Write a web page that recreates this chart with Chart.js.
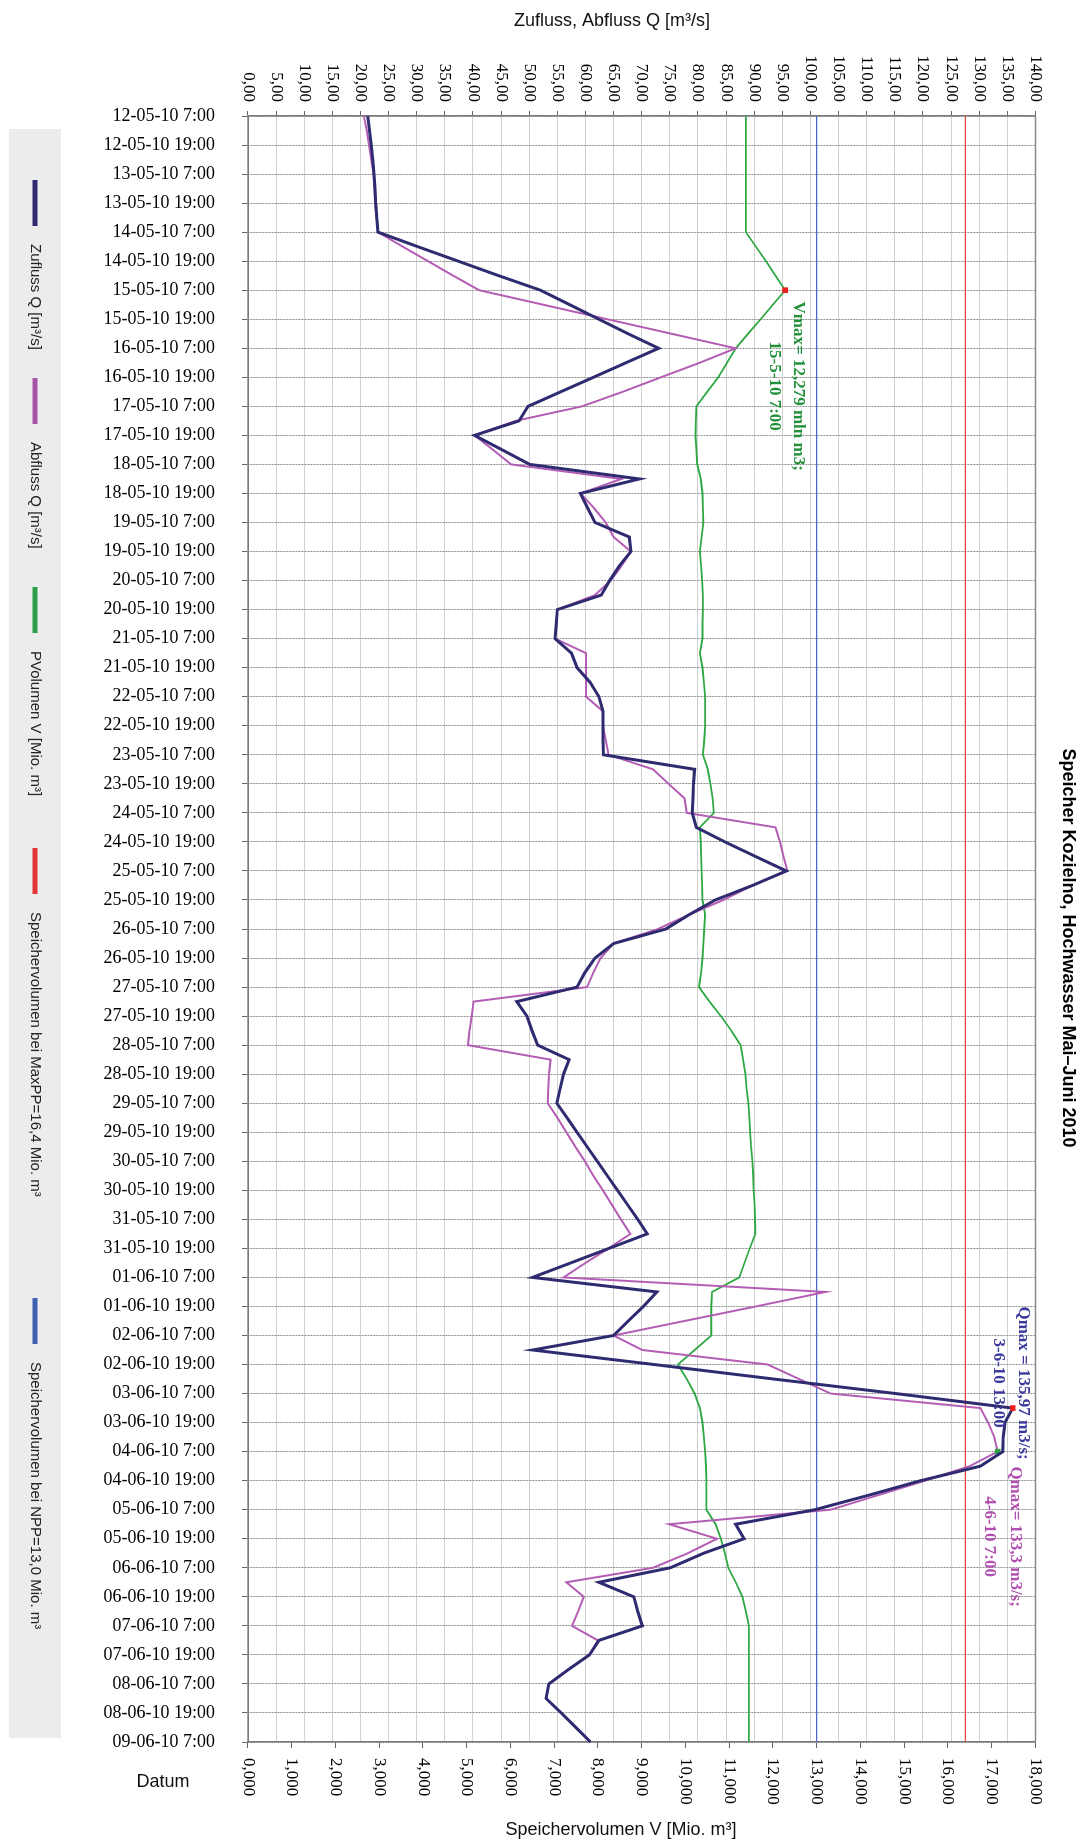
<!DOCTYPE html>
<html>
<head>
<meta charset="utf-8">
<title>Speicher Kozielno, Hochwasser Mai–Juni 2010</title>
<script src="https://cdn.jsdelivr.net/npm/chart.js@4.4.0/dist/chart.umd.min.js"></script>
<style>
  html, body { margin: 0; padding: 0; background: #fff; overflow: hidden; }
  /* the chart is drawn landscape and turned a quarter clockwise, like the original sheet */
  #wrap { position: absolute; left: 0; top: 0; width: 1842px; height: 1090px;
          transform-origin: 0 0; transform: translateX(1090px) rotate(90deg); }
</style>
</head>
<body>
<div id="wrap"><canvas id="chart" width="1842" height="1090"></canvas></div>
<script>
// 6-hour steps, 12-05-10 7:00 ... 09-06-10 7:00
const startTime = Date.UTC(2010, 4, 12, 7);
const stepCount = 113;
const timeLabels = [];
for (let i = 0; i < stepCount; i++) {
    const d = new Date(startTime + i * 6 * 3600 * 1000);
    const dd = String(d.getUTCDate()).padStart(2, '0');
    const mm = String(d.getUTCMonth() + 1).padStart(2, '0');
    const yy = String(d.getUTCFullYear()).slice(2);
    timeLabels.push(`${dd}-${mm}-${yy} ${d.getUTCHours()}:00`);
}

// Zufluss Q [m3/s]
const zufluss = [
    21.3, 21.6, 21.9, 22.2, 22.4, 22.6, 22.7, 22.9, 23.1, 30.2,
    37.4, 44.6, 52.0, 57.2, 62.4, 67.6, 73.0, 67.2, 61.4, 55.6,
    49.8, 48.2, 40.3, 45.2, 50.1, 69.6, 59.1, 60.4, 61.7, 67.8,
    68.1, 66.0, 64.3, 62.8, 55.0, 54.8, 54.6, 57.5, 58.5, 60.8,
    62.4, 63.1, 63.1, 63.1, 63.2, 79.4, 79.2, 79.1, 79.0, 79.7,
    84.8, 90.2, 95.7, 89.7, 83.1, 78.5, 74.3, 65.0, 61.7, 59.9,
    58.5, 47.8, 49.6, 50.5, 51.5, 57.1, 56.1, 55.5, 54.9, 56.7,
    58.5, 60.3, 62.1, 63.9, 65.7, 67.5, 69.3, 71.0, 64.2, 57.4,
    50.6, 72.7, 70.3, 67.6, 65.0, 50.6, 72.2, 93.5, 115.2, 135.97,
    134.6, 134.3, 134.2, 130.2, 119.6, 110.4, 100.8, 86.7, 88.2, 81.0,
    75.1, 62.4, 68.6, 69.3, 70.1, 62.4, 60.7, 57.0, 53.5, 53.0,
    55.7, 58.3, 60.9
];

// Abfluss Q [m3/s]
const abfluss = [
    20.6, 21.1, 21.5, 21.9, 22.3, 22.5, 22.6, 22.9, 23.1, 27.5,
    32.0, 36.5, 41.1, 52.5, 63.9, 75.3, 86.7, 80.3, 73.4, 66.6,
    59.4, 47.6, 40.3, 43.6, 46.8, 66.4, 59.1, 61.5, 63.6, 65.0,
    68.1, 66.4, 64.5, 61.7, 55.0, 54.8, 54.6, 60.1, 60.1, 60.1,
    60.1, 63.1, 63.1, 63.6, 64.1, 72.0, 74.8, 77.6, 78.0, 93.8,
    94.6, 95.2, 95.9, 89.7, 84.5, 78.5, 72.9, 65.0, 62.7, 61.4,
    60.3, 40.1, 39.8, 39.4, 39.1, 53.8, 53.5, 53.4, 53.3, 55.0,
    56.6, 58.2, 59.9, 61.4, 63.1, 64.7, 66.3, 68.0, 64.1, 60.0,
    56.1, 102.7, 90.3, 77.6, 65.0, 70.1, 92.4, 98.0, 103.6, 130.2,
    131.6, 132.7, 133.3, 128.3, 120.4, 112.0, 103.6, 74.9, 83.4, 78.2,
    72.0, 56.6, 59.7, 58.7, 57.6, 62.2, 60.7, 57.0, 53.5, 53.0,
    55.7, 58.3, 60.9
];

// PVolumen V [Mio. m3]
const volumen = [
    11.38, 11.38, 11.38, 11.38, 11.38, 11.38, 11.38, 11.38, 11.38, 11.61,
    11.84, 12.06, 12.279, 12.00, 11.72, 11.43, 11.15, 10.95, 10.75, 10.50,
    10.25, 10.24, 10.23, 10.25, 10.27, 10.35, 10.39, 10.40, 10.41, 10.37,
    10.33, 10.36, 10.38, 10.40, 10.40, 10.39, 10.39, 10.33, 10.39, 10.42,
    10.45, 10.45, 10.45, 10.43, 10.40, 10.51, 10.57, 10.62, 10.65, 10.33,
    10.35, 10.36, 10.37, 10.38, 10.39, 10.45, 10.43, 10.41, 10.39, 10.36,
    10.31, 10.55, 10.81, 11.05, 11.26, 11.32, 11.37, 11.40, 11.44, 11.46,
    11.48, 11.50, 11.53, 11.55, 11.56, 11.58, 11.59, 11.60, 11.47, 11.35,
    11.23, 10.61, 10.59, 10.59, 10.59, 10.21, 9.83, 10.03, 10.21, 10.33,
    10.39, 10.42, 10.45, 10.47, 10.48, 10.48, 10.48, 10.69, 10.81, 10.90,
    10.98, 11.15, 11.30, 11.38, 11.45, 11.45, 11.45, 11.45, 11.45, 11.45,
    11.45, 11.45, 11.45
];

const maxPPLevel = 16.4;
const nppLevel = 13.0;

const serif = "'Liberation Serif', 'Times New Roman', serif";
const sans = "'Liberation Sans', Arial, sans-serif";

const last = timeLabels.length - 1;
const zuMax = zufluss.indexOf(Math.max(...zufluss));
const abMax = abfluss.indexOf(Math.max(...abfluss));
const vMax = volumen.indexOf(Math.max(...volumen));

function markAt(idx, size) {
    return ctx => ctx.dataIndex === idx ? size : 0;
}

// annotations near the maxima: dataset, point, text lines, colour, offsets
const notes = [
    { ds: 2, idx: vMax, lines: ['Vmax= 12,279 mln m3;', '15-5-10 7:00'], color: '#23913a', dx: 96, dy: [-13, 11] },
    { ds: 0, idx: zuMax, lines: ['Qmax = 135,97 m3/s;', '3-6-10 13:00'], color: '#3a3a9c', dx: -25, dy: [-11, 14] },
    { ds: 1, idx: abMax, lines: ['Qmax= 133,3 m3/s;', '4-6-10 7:00'], color: '#b04fb0', dx: 85, dy: [-18, 8] }
];

// start of each legend item inside the grey legend strip
const legendSlots = [51, 249, 458, 719, 1169];

function drawTurned(ctx, text, x, y, font) {
    ctx.save();
    ctx.translate(x, y);
    ctx.rotate(-Math.PI / 2);
    ctx.font = font;
    ctx.fillStyle = '#111';
    ctx.textAlign = 'center';
    ctx.textBaseline = 'middle';
    ctx.fillText(text, 0, 0);
    ctx.restore();
}

const decorPlugin = {
    id: 'decor',
    afterDraw(chart) {
        const { ctx, chartArea } = chart;

        // solid frame along the Q = 140 edge
        ctx.save();
        ctx.strokeStyle = '#8a8a8a';
        ctx.lineWidth = 1.5;
        ctx.beginPath();
        ctx.moveTo(chartArea.left, chartArea.top);
        ctx.lineTo(chartArea.right, chartArea.top);
        ctx.stroke();
        ctx.restore();

        // axis titles, turned so they read level on the rotated page
        drawTurned(ctx, 'Zufluss, Abfluss Q [m³/s]', 21, 478, `18px ${sans}`);
        drawTurned(ctx, 'Speichervolumen V [Mio. m³]', 1830, 469, `18px ${sans}`);
        drawTurned(ctx, 'Datum', 1782, 927, `18px ${sans}`);

        // annotations
        ctx.save();
        ctx.font = `bold 17px ${serif}`;
        ctx.textAlign = 'center';
        ctx.textBaseline = 'middle';
        notes.forEach(n => {
            const pt = chart.getDatasetMeta(n.ds).data[n.idx];
            ctx.fillStyle = n.color;
            n.lines.forEach((line, i) => ctx.fillText(line, pt.x + n.dx, pt.y + n.dy[i]));
        });
        ctx.restore();

        // legend strip
        const bx = chartArea.left + 13;
        const bw = chartArea.right - 4 - bx;
        const by = chart.height - 61;
        ctx.save();
        ctx.fillStyle = '#ececec';
        ctx.fillRect(bx, by, bw, 52);
        ctx.font = `15px ${sans}`;
        ctx.textBaseline = 'middle';
        ctx.textAlign = 'left';
        chart.data.datasets.forEach((ds, i) => {
            const x = bx + legendSlots[i];
            const y = by + 26;
            ctx.strokeStyle = ds.legendColor || ds.borderColor;
            ctx.lineWidth = 5;
            ctx.beginPath();
            ctx.moveTo(x, y);
            ctx.lineTo(x + 46, y);
            ctx.stroke();
            ctx.fillStyle = '#222';
            ctx.fillText(ds.label, x + 64, y);
        });
        ctx.restore();
    }
};

new Chart(document.getElementById('chart'), {
    type: 'line',
    data: {
        labels: timeLabels,
        datasets: [
            {
                label: 'Zufluss Q [m³/s]',
                data: zufluss,
                yAxisID: 'q',
                borderColor: '#2e2b70',
                borderWidth: 3,
                pointStyle: 'rect',
                pointRadius: markAt(zuMax, 4),
                pointBackgroundColor: '#ee2020',
                pointBorderWidth: 0
            },
            {
                label: 'Abfluss Q [m³/s]',
                data: abfluss,
                yAxisID: 'q',
                borderColor: '#b45db4',
                legendColor: '#a653a6',
                borderWidth: 2,
                pointStyle: 'rect',
                pointRadius: markAt(abMax, 4),
                pointBackgroundColor: '#2ea043',
                pointBorderWidth: 0
            },
            {
                label: 'PVolumen V [Mio. m³]',
                data: volumen,
                yAxisID: 'v',
                borderColor: '#2ea843',
                legendColor: '#2e9e4a',
                borderWidth: 1.8,
                pointStyle: 'rect',
                pointRadius: markAt(vMax, 4),
                pointBackgroundColor: '#ee2020',
                pointBorderWidth: 0
            },
            {
                label: 'Speichervolumen bei MaxPP=16,4 Mio. m³',
                data: [{ x: timeLabels[0], y: maxPPLevel }, { x: timeLabels[last], y: maxPPLevel }],
                yAxisID: 'v',
                borderColor: '#e8453c',
                legendColor: '#e03535',
                borderWidth: 1.2,
                pointRadius: 0
            },
            {
                label: 'Speichervolumen bei NPP=13,0 Mio. m³',
                data: [{ x: timeLabels[0], y: nppLevel }, { x: timeLabels[last], y: nppLevel }],
                yAxisID: 'v',
                borderColor: '#4a66c8',
                legendColor: '#3f5fb0',
                borderWidth: 1.2,
                pointRadius: 0
            }
        ]
    },
    options: {
        responsive: false,
        animation: false,
        devicePixelRatio: 1,
        layout: { padding: { left: 54, right: 0, top: 0, bottom: 0 } },
        plugins: {
            legend: { display: false },
            tooltip: { enabled: false },
            title: {
                display: true,
                text: 'Speicher Kozielno, Hochwasser Mai–Juni 2010',
                color: '#000',
                font: { family: sans, size: 18, weight: 'bold' },
                padding: { top: 11, bottom: 22 }
            }
        },
        scales: {
            x: {
                type: 'category',
                ticks: {
                    autoSkip: false,
                    minRotation: 90,
                    maxRotation: 90,
                    padding: 27,
                    color: '#000',
                    font: { family: serif, size: 18 },
                    callback: function (value, index) {
                        return index % 2 === 0 ? this.getLabelForValue(value) : '';
                    }
                },
                grid: {
                    color: '#8c8c8c',
                    lineWidth: c => c.index % 2 === 0 ? 1 : 0,
                    tickLength: 6,
                    tickColor: '#666'
                },
                border: { color: '#7a7a7a', width: 1.5, dash: [2, 1] },
                afterFit: s => { s.height = 248; }
            },
            q: {
                type: 'linear',
                position: 'left',
                min: 0,
                max: 140,
                ticks: {
                    stepSize: 5,
                    padding: 9,
                    color: '#000',
                    font: { family: serif, size: 17 },
                    callback: v => v.toFixed(2).replace('.', ',')
                },
                grid: { color: '#a2a2a2', lineWidth: 1, tickLength: 5, tickColor: '#666' },
                border: { color: '#7a7a7a', width: 1.5, dash: [1, 1] },
                afterFit: s => { s.width = 62; }
            },
            v: {
                type: 'linear',
                position: 'right',
                min: 0,
                max: 18,
                ticks: {
                    stepSize: 1,
                    padding: 10,
                    color: '#000',
                    font: { family: serif, size: 17 },
                    callback: v => v.toFixed(3).replace('.', ',')
                },
                grid: { drawOnChartArea: false, tickLength: 6, color: '#666' },
                border: { color: '#7a7a7a', width: 1.5 },
                afterFit: s => { s.width = 100; }
            }
        }
    },
    plugins: [decorPlugin]
});
</script>
</body>
</html>
